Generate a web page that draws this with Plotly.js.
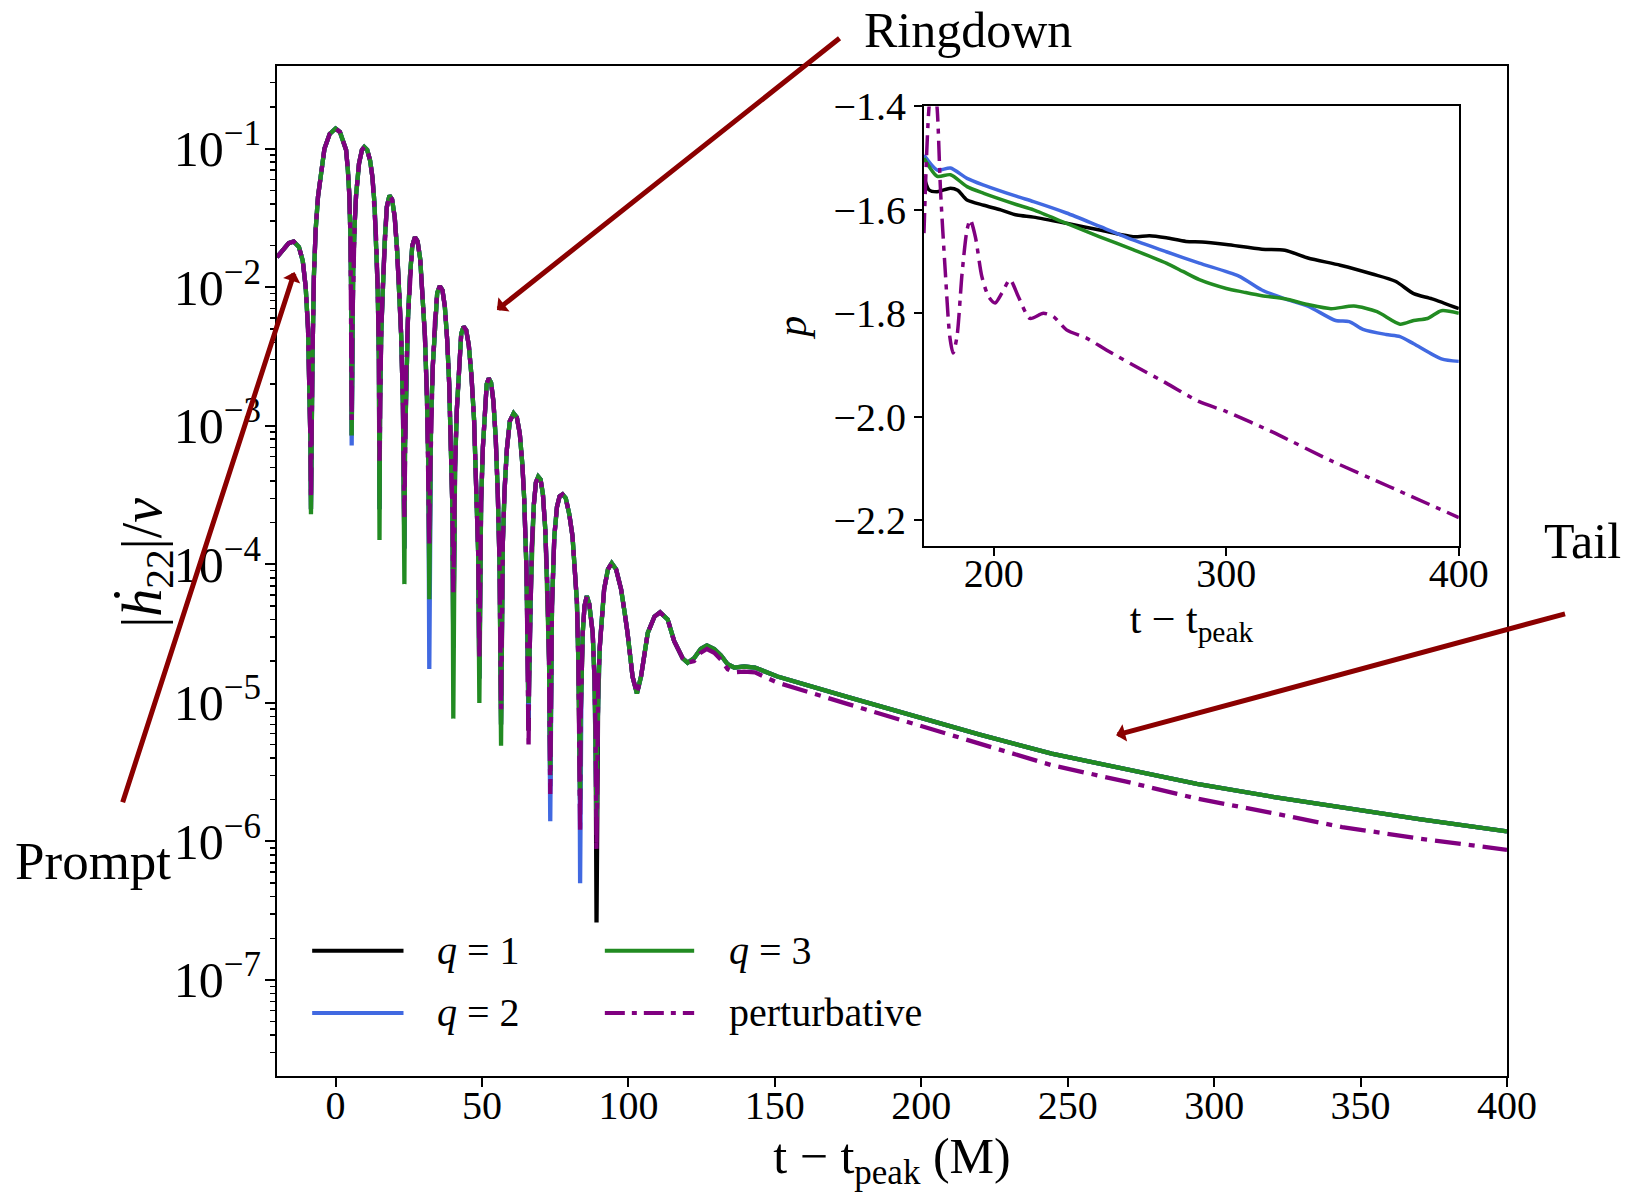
<!DOCTYPE html>
<html>
<head>
<meta charset="utf-8">
<script src="https://cdn.plot.ly/plotly-3.0.1.min.js"></script>
<style>html,body{margin:0;padding:0;background:#fff;}#plot{width:1629px;height:1192px;}</style>
</head>
<body>
<div id="plot"></div>
<script>
// ---------------- main panel: |dh22/dt|/nu (shared ringdown shape) ----------------
const t_ring = [-20, -18, -16, -14.3, -12.5, -11.2, -10.2, -9.4, -8.9, -8.6,
  -8.2, -7.9, -7.4, -6.8, -6.0, -5.0, -3.8, -2.0, 0.0, 1.5, 2.7, 3.6, 4.2, 4.7, 5.1, 5.35,
  5.7, 6.0, 6.5, 7.0, 8.0, 9.0, 9.8, 10.8, 11.8, 12.6, 13.3, 13.9, 14.4, 14.8,
  15.2, 15.6, 16.1, 16.8, 17.5, 18.4, 19.3, 20.2, 21.0, 21.7, 22.4, 23.0,
  23.7, 24.1, 24.7, 25.4, 26.2, 27.1, 28.0, 28.9, 29.7, 30.5, 31.2, 31.7,
  32.2, 32.6, 33.2, 33.9, 34.7, 35.6, 36.5, 37.3, 38.1, 38.8, 39.5, 39.9,
  40.4, 40.8, 41.4, 42.1, 42.9, 43.7, 44.6, 45.5, 46.4, 47.3, 48.1, 48.7,
  49.3, 49.7, 50.3, 51.0, 51.6, 52.3, 53.1, 53.9, 54.7, 55.4, 56.0,
  56.7, 57.1, 57.7, 58.5, 59.5, 60.8, 61.9, 62.9, 63.8, 64.4, 65.2,
  66.1, 66.5, 67.0, 67.7, 68.4, 69.2, 70.0, 70.8, 71.6, 72.3, 72.9,
  73.5, 73.9, 74.7, 75.6, 76.5, 77.5, 78.6, 79.8, 80.9, 81.8, 82.4, 82.9, 83.3,
  83.7, 84.0, 84.4, 85.0, 85.8, 86.6, 87.3, 87.8, 88.4, 88.8,
  89.3, 89.7, 90.2, 90.6, 91.7, 93.0, 94.3, 95.8, 97.5, 98.7, 99.7, 101.4, 102.9,
  104.3, 106.6, 108.9, 110.8, 113.4, 115.6, 118.5, 120.2];
const h_ring = [0.0165, 0.0188, 0.0208, 0.0214, 0.0195, 0.0155, 0.0100, 0.0050, 0.0020, 0.0008,
  0.0012, 0.003, 0.012, 0.026, 0.045, 0.068, 0.100, 0.128, 0.140, 0.132, 0.113, 0.098, 0.070, 0.046, 0.022, 0.008,
  0.005, 0.013, 0.028, 0.046, 0.078, 0.098, 0.103, 0.098, 0.082, 0.062, 0.040, 0.022, 0.0095, 0.003,
  0.0015, 0.0048, 0.010, 0.022, 0.038, 0.046, 0.043, 0.032, 0.019, 0.010, 0.0045, 0.0014,
  0.0007, 0.0024, 0.0058, 0.012, 0.020, 0.023, 0.0215, 0.016, 0.0095, 0.0045, 0.0016, 0.0005,
  0.00035, 0.0011, 0.0027, 0.0056, 0.0091, 0.0102, 0.0095, 0.0073, 0.0042, 0.0020, 0.0007, 0.00025,
  0.00015, 0.0005, 0.0013, 0.0028, 0.0046, 0.0052, 0.0049, 0.0038, 0.0023, 0.0011, 0.0004, 0.00012,
  0.00008, 0.00028, 0.0007, 0.00145, 0.0020, 0.0022, 0.00205, 0.0015, 0.0008, 0.00032, 0.0001,
  0.00004, 0.00014, 0.00034, 0.00068, 0.00108, 0.00123, 0.00115, 0.00088, 0.00052, 0.00030, 0.00009,
  0.000015, 0.00005, 0.00013, 0.00027, 0.00039, 0.00043, 0.00041, 0.00032, 0.00018, 0.00007, 0.00002,
  0.000012, 0.00005, 0.00016, 0.00026, 0.00031, 0.00032, 0.00030, 0.00023, 0.00016, 0.00009, 0.000054, 0.00002, 0.000006,
  0.000008, 0.000018, 0.000032, 0.000050, 0.000059, 0.000052, 0.000040, 0.000032, 0.000015, 0.000006,
  0.000005, 0.000014, 0.000025, 0.000033, 0.000066, 0.000092, 0.000102, 0.000092, 0.000066, 0.000045, 0.000032, 0.0000155, 0.0000117,
  0.0000155, 0.000032, 0.000042, 0.000045, 0.000040, 0.000028, 0.000021, 0.0000195];

// depth of each sharp minimum, per run
const t_dip    = [-8.4, 5.5, 15.0, 23.5, 32.0, 40.2, 49.1, 56.5, 65.9, 73.3, 83.5, 89.1];
const dip_q1   = [2.5e-4, 8.5e-4, 2.5e-4, 1.3e-4, 8e-5, 2.5e-5, 1.5e-5, 7e-6, 6.3e-6, 2.5e-6, 2e-6, 2.6e-7];
const dip_q2   = [2.5e-4, 7.2e-4, 2.5e-4, 1.3e-4, 1.76e-5, 2.5e-5, 1.5e-5, 7e-6, 7.8e-6, 1.4e-6, 5.0e-7, 1.5e-6];
const dip_q3   = [2.3e-4, 8.5e-4, 1.5e-4, 7.2e-5, 5.6e-5, 7.7e-6, 1.0e-5, 4.9e-6, 1.0e-5, 3e-6, 2e-6, 1.5e-6];
const dip_pert = [3.0e-4, 1.1e-3, 5.6e-4, 2.2e-4, 1.37e-4, 6.3e-5, 2.1e-5, 9e-6, 4.7e-6, 2.2e-6, 1.15e-6, 8.7e-7];

// late ringdown + tail
const t_tail    = [122.4, 124.7, 126.8, 129.3, 131.6, 133.9, 136.1, 139.5, 143.2, 146.3, 150.9, 175, 194.8, 220, 244.5, 270, 294.1, 320, 343.7, 370, 400];
const tail_nr   = [2.1e-5, 2.45e-5, 2.6e-5, 2.45e-5, 2.2e-5, 1.9e-5, 1.8e-5, 1.83e-5, 1.8e-5, 1.7e-5, 1.55e-5, 1.1e-5, 8.3e-6, 5.9e-6, 4.3e-6, 3.3e-6, 2.6e-6, 2.1e-6, 1.76e-6, 1.45e-6, 1.18e-6];
const tail_pert = [2.0e-5, 2.3e-5, 2.45e-5, 2.3e-5, 2.05e-5, 1.75e-5, 1.66e-5, 1.68e-5, 1.66e-5, 1.55e-5, 1.4e-5, 9.8e-6, 7.3e-6, 5.1e-6, 3.55e-6, 2.7e-6, 2.04e-6, 1.6e-6, 1.27e-6, 1.05e-6, 8.7e-7];

// ---------------- inset: local power-law index p ----------------
const tin_q1 = [170, 172.1, 175.7, 181.4, 184.5, 188.5, 195.7, 203, 210, 217.1, 231.3, 245.6, 259.9, 267, 274.2, 282.7, 289.6, 300, 315.3, 325.2, 335.1, 349.0, 362.8, 372.7, 380.6, 388.5, 400];
const p_q1   = [-1.535, -1.561, -1.565, -1.558, -1.562, -1.581, -1.591, -1.600, -1.610, -1.614, -1.626, -1.639, -1.652, -1.650, -1.654, -1.661, -1.662, -1.667, -1.676, -1.678, -1.693, -1.707, -1.724, -1.738, -1.762, -1.772, -1.791];
const tin_q2 = [170, 175.7, 181.4, 188.5, 195.7, 210, 217.1, 231.3, 245.6, 259.9, 274.2, 288.4, 305.4, 315.3, 325.2, 335.1, 347, 352.9, 358.8, 368.7, 374.7, 380.6, 392.5, 400];
const p_q2   = [-1.494, -1.523, -1.519, -1.539, -1.552, -1.574, -1.584, -1.606, -1.632, -1.658, -1.681, -1.703, -1.728, -1.755, -1.772, -1.786, -1.814, -1.816, -1.831, -1.841, -1.845, -1.859, -1.888, -1.893];
const tin_q3 = [170, 175.7, 181.4, 188.5, 195.7, 210, 217.1, 231.3, 245.6, 259.9, 274.2, 281.3, 288.4, 300, 307.4, 315.3, 325.2, 335.1, 345, 354.9, 364.8, 374.7, 380.6, 386.5, 392.5, 400];
const p_q3   = [-1.500, -1.535, -1.532, -1.555, -1.568, -1.590, -1.600, -1.626, -1.652, -1.677, -1.703, -1.719, -1.735, -1.752, -1.759, -1.766, -1.772, -1.783, -1.791, -1.786, -1.797, -1.821, -1.814, -1.810, -1.795, -1.800];
const tin_pt = [170, 171.1, 172.1, 173.9, 175.7, 177.1, 179.2, 181.1, 182.5, 184.2, 186.4, 188.5, 189.9, 192.1, 194.9, 197.8, 200.6, 203.5, 207.0, 210.6, 215.6, 221.3, 225.6, 231.3, 239.9, 248.4, 259.9, 274.2, 288.4, 300, 320, 345, 370, 400];
const p_pt   = [-1.645, -1.497, -1.406, -1.33, -1.406, -1.561, -1.722, -1.845, -1.877, -1.845, -1.722, -1.639, -1.619, -1.652, -1.729, -1.768, -1.780, -1.761, -1.735, -1.768, -1.810, -1.800, -1.806, -1.832, -1.848, -1.871, -1.900, -1.935, -1.971, -1.990, -2.030, -2.085, -2.135, -2.195];

const names  = ['<i>q</i> = 1', '<i>q</i> = 2', '<i>q</i> = 3', 'perturbative'];
const colors = ['#000000', '#4169E1', '#228B22', '#800080'];
const dashMain = '26px,8px,6px,8px';
const dashInset = '20px,7px,5px,7px';

function buildSeries(dipVals, tailVals) {
  const pts = [];
  t_ring.forEach((t, i) => pts.push([t, h_ring[i]]));
  t_dip.forEach((t, i) => pts.push([t, dipVals[i]]));
  pts.sort((a, b) => a[0] - b[0]);
  t_tail.forEach((t, i) => pts.push([t, tailVals[i]]));
  return {x: pts.map(p => p[0]), y: pts.map(p => p[1])};
}

const mainSets = [buildSeries(dip_q1, tail_nr), buildSeries(dip_q2, tail_nr), buildSeries(dip_q3, tail_nr), buildSeries(dip_pert, tail_pert)];
const insetSets = [[tin_q1, p_q1], [tin_q2, p_q2], [tin_q3, p_q3], [tin_pt, p_pt]];

const traces = [];
mainSets.forEach((s, i) => traces.push({
  x: s.x, y: s.y, type: 'scatter', mode: 'lines', name: names[i], showlegend: false,
  line: {color: colors[i], width: 4.3, dash: i === 3 ? dashMain : 'solid'},
  xaxis: 'x', yaxis: 'y'
}));
insetSets.forEach((s, i) => traces.push({
  x: s[0], y: s[1], type: 'scatter', mode: 'lines', name: names[i], showlegend: false,
  line: {color: colors[i], width: 3.5, dash: i === 3 ? dashInset : 'solid', shape: 'spline', smoothing: 0.7},
  xaxis: 'x2', yaxis: 'y2', cliponaxis: true
}));

const FONT = 'Liberation Serif, Times New Roman, serif';
const L = 276.5, R = 1507.5, T = 65.5, B = 1076;
const W = 1629, H = 1192;
const px = X => (X - L) / (R - L);
const py = Y => 1 - (Y - T) / (B - T);

// manual legend (2 columns)
const legX = [[311.7, 403.1], [311.7, 403.1], [604.6, 694.0], [604.6, 694.0]];
const legY = [950.6, 1012.9, 950.6, 1012.9];
const legTx = [434.3, 434.3, 727.2, 727.2];
const shapes = [];
const annotations = [];
for (let i = 0; i < 4; i++) {
  shapes.push({type: 'line', xref: 'paper', yref: 'paper',
    x0: px(legX[i][0]), x1: px(legX[i][1]), y0: py(legY[i]), y1: py(legY[i]),
    line: {color: colors[i], width: 4, dash: i === 3 ? dashInset : 'solid'}});
  annotations.push({xref: 'paper', yref: 'paper', x: px(legTx[i]), y: py(legY[i]),
    xanchor: 'left', yanchor: 'middle', showarrow: false, text: names[i],
    font: {family: FONT, size: 40, color: '#000'}});
}

// y-axis label of the main panel
annotations.push({xref: 'paper', yref: 'paper', x: px(146), y: py(563), xanchor: 'center', yanchor: 'middle',
  textangle: -90, showarrow: false, text: '|<i>ḣ</i><sub>22</sub>|/<i>ν</i>',
  font: {family: FONT, size: 56, color: '#000'}});

// region labels + arrows
const AR = '#8B0000';
annotations.push({xref: 'paper', yref: 'paper', x: px(862), y: py(29.7), xanchor: 'left', yanchor: 'middle',
  showarrow: false, text: 'Ringdown', font: {family: FONT, size: 50, color: '#000'}});
annotations.push({xref: 'paper', yref: 'paper', x: px(1542.8), y: py(540.3), xanchor: 'left', yanchor: 'middle',
  showarrow: false, text: 'Tail', font: {family: FONT, size: 50, color: '#000'}});
annotations.push({xref: 'paper', yref: 'paper', x: px(12), y: py(861.3), xanchor: 'left', yanchor: 'middle',
  showarrow: false, text: 'Prompt', font: {family: FONT, size: 53, color: '#000'}});
const arrows = [
  {hx: 496.6, hy: 309.6, tx: 840.7, ty: 36.7},
  {hx: 294.0, hy: 271.7, tx: 121.7, ty: 803.3},
  {hx: 1116.3, hy: 735.0, tx: 1566.7, ty: 613.3}
];
arrows.forEach(a => annotations.push({xref: 'paper', yref: 'paper', x: px(a.hx), y: py(a.hy),
  ax: a.tx - a.hx, ay: a.ty - a.hy, axref: 'pixel', ayref: 'pixel', text: '', showarrow: true,
  arrowhead: 1, arrowsize: 0.6, arrowwidth: 5, arrowcolor: AR}));

const axBase = {showgrid: false, zeroline: false, showline: true, linecolor: '#000', linewidth: 2,
  mirror: true, ticks: 'outside', tickcolor: '#000', tickwidth: 2,
  tickfont: {family: FONT, size: 40, color: '#000'}};

const layout = {
  width: W, height: H,
  margin: {l: L, r: W - R, t: T, b: H - B, pad: 0},
  paper_bgcolor: '#fff', plot_bgcolor: '#fff',
  font: {family: FONT, color: '#000'},
  showlegend: false,
  xaxis: Object.assign({}, axBase, {
    domain: [0, 1], anchor: 'y', range: [-20, 400],
    tickvals: [0, 50, 100, 150, 200, 250, 300, 350, 400], ticklen: 9, ticklabelstandoff: -16,
    title: {text: 't − t<sub>peak</sub> (M)', font: {family: FONT, size: 50, color: '#000'}, standoff: 4}
  }),
  yaxis: Object.assign({}, axBase, {
    domain: [0, 1], anchor: 'x', type: 'log', range: [-7.693, -0.403],
    dtick: 1, exponentformat: 'power', showexponent: 'all', ticklen: 10, ticklabelstandoff: -4,
    minor: {ticks: 'outside', ticklen: 5, tickwidth: 1.5, tickcolor: '#000', dtick: 'D1'}
  }),
  xaxis2: Object.assign({}, axBase, {
    domain: [px(924), px(1459.3)], anchor: 'y2', range: [170, 400],
    tickvals: [200, 300, 400], ticklen: 8, ticklabelstandoff: -17,
    title: {text: 't − t<sub>peak</sub>', font: {family: FONT, size: 42, color: '#000'}, standoff: 6}
  }),
  yaxis2: Object.assign({}, axBase, {
    domain: [py(545.7), py(106)], anchor: 'x2', range: [-2.25, -1.4],
    tickvals: [-2.2, -2.0, -1.8, -1.6, -1.4], tickformat: '.1f', ticklen: 8,
    title: {text: '<i>p</i>', font: {family: FONT, size: 42, color: '#000'}, standoff: 14}
  }),
  shapes: shapes,
  annotations: annotations
};

Plotly.newPlot('plot', traces, layout, {displayModeBar: false, staticPlot: true});
</script>
</body>
</html>
